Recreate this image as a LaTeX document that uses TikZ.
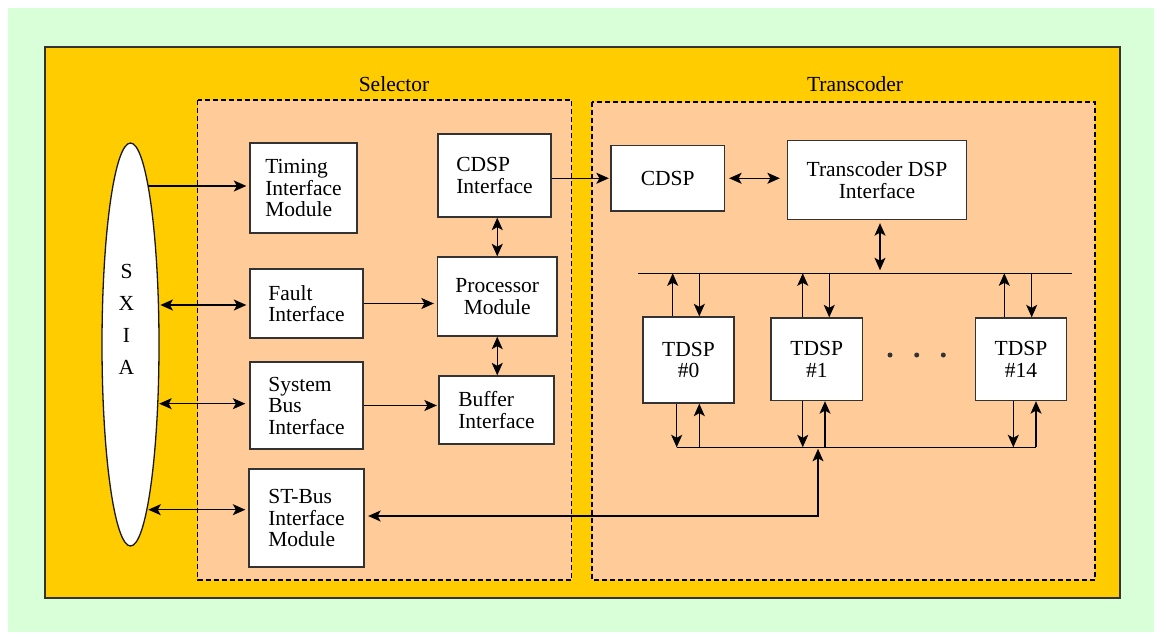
\documentclass[tikz,border=0pt]{standalone}
\usepackage{fontspec}
\setmainfont{Liberation Serif}
\usetikzlibrary{shapes.geometric,arrows.meta}
\definecolor{mint}{HTML}{D9FFD9}
\definecolor{gold}{HTML}{FFCC00}
\definecolor{peach}{HTML}{FFCC99}
\definecolor{edge}{HTML}{333333}
\tikzset{
  headtip/.tip={Stealth[length=12.5pt,width=11pt,inset=3pt]}
}
\begin{document}
\begin{tikzpicture}[x=1pt,y=-1pt,
  txt/.style={font=\rmfamily\fontsize{21.5pt}{21.5pt}\selectfont},
  blk/.style={draw=edge,fill=white,line width=1.3pt,inner sep=0pt,txt,text=black},
  lblk/.style={blk,align=left},
  cblk/.style={blk,align=center},
  conn/.style={draw=black,line width=1.3pt},
  fwd/.style={conn,-headtip},
  both/.style={conn,headtip-headtip},
  grpbox/.style={fill=peach,draw=black,line width=1.6pt,dash pattern=on 5pt off 3pt},
  dotnode/.style={circle,fill=black!80,inner sep=0pt,minimum size=5pt}
]
\useasboundingbox (0,0) rectangle (1154,632);

% backgrounds
\fill[mint] (8,8) rectangle (1154,632);
\draw[fill=gold,draw=edge,line width=1.5pt] (45,47) rectangle (1120,598);

% the two subsystems
\draw[grpbox] (197.5,100) rectangle (571.5,580);
\draw[grpbox] (592,102) rectangle (1095,580);
\node[txt,anchor=base] (sellabel) at (394,91) {Selector};
\node[txt,anchor=base] (trlabel) at (855,91.5) {Transcoder};

% selector blocks
\node[lblk,minimum width=107,minimum height=90] (timing) at (303.5,188) {Timing\\Interface\\Module};
\node[lblk,minimum width=113,minimum height=69] (fault) at (306.5,303.5) {Fault\\Interface};
\node[lblk,minimum width=113,minimum height=87] (sysbus) at (306.5,405.5) {System\\Bus\\Interface};
\node[lblk,minimum width=115,minimum height=98] (stbus) at (306.5,518) {ST-Bus\\Interface\\Module};
\node[lblk,minimum width=113,minimum height=83] (cdspif) at (494.5,175.5) {CDSP\\Interface};
\node[cblk,minimum width=119.5,minimum height=79] (proc) at (497.25,296.5) {Processor\\Module};
\node[lblk,minimum width=115,minimum height=68] (buffer) at (496.5,410) {Buffer\\Interface};

% transcoder blocks
\node[cblk,minimum width=113.5,minimum height=65.5] (cdsp) at (667.75,178.25) {CDSP};
\node[cblk,minimum width=179,minimum height=79] (tdspif) at (877,180) {Transcoder DSP\\Interface};
\node[cblk,minimum width=91,minimum height=86] (t0) at (688.5,360) {TDSP\\\#0};
\node[cblk,minimum width=91.5,minimum height=82.5] (t1) at (816.75,359.25) {TDSP\\\#1};
\node[cblk,minimum width=91,minimum height=82.5] (t14) at (1021,359.25) {TDSP\\\#14};
\node[dotnode] (dota) at (890,355) {};
\node[dotnode] (dotb) at (916.7,355) {};
\node[dotnode] (dotc) at (943.3,355) {};

% SXIA bus
\node[ellipse,draw=black!90,fill=white,line width=1.3pt,inner sep=0pt,
      minimum width=57,minimum height=403] (sxia) at (130.5,344.5) {};
\node[txt,align=center,font=\rmfamily\fontsize{21.5pt}{32.2pt}\selectfont] (sxialabel) at (126.5,319.5) {S\\X\\I\\A};
\coordinate (sxT) at (148.1,186);
\coordinate (sxF) at (158.4,305);
\coordinate (sxS) at (157.7,403.7);
\coordinate (sxB) at (146.8,509.7);

% SXIA links
\draw[fwd,shorten >=3pt] (sxT) -- (sxT -| timing.west);
\draw[both,shorten <=2pt,shorten >=3pt] (sxF) -- (sxF -| fault.west);
\draw[both,shorten <=1.5pt,shorten >=4pt] (sxS) -- (sxS -| sysbus.west);
\draw[both,shorten <=1.5pt,shorten >=3pt] (sxB) -- (sxB -| stbus.west);

% selector links
\draw[fwd,shorten >=3pt] (fault.east) -- (fault.east -| proc.west);
\draw[fwd,shorten >=1.5pt] (sysbus.east) -- (sysbus.east -| buffer.west);
\draw[both] (proc.north |- cdspif.south) -- (proc.north);
\draw[both] (proc.south) -- (proc.south |- buffer.north);
\draw[fwd,shorten >=1.5pt] (cdsp.west -| cdspif.east) -- (cdsp.west);

% transcoder links
\draw[both,shorten <=4pt,shorten >=7pt] (cdsp.east) -- (cdsp.east -| tdspif.west);
\coordinate (busL) at (638,273.3);
\coordinate (busR) at (1072,273.3);
\coordinate (botL) at (676.7,447.3);
\coordinate (botR) at (1036,447.3);
\coordinate (tap) at (818,447.3);
\draw[conn] (busL) -- (busR);
\draw[conn] (botL) -- (botR);
\draw[both,shorten <=3pt,shorten >=3pt] ([xshift=3pt]tdspif.south) -- ([xshift=3pt]tdspif.south |- busL);
\foreach \n/\a/\b/\c/\d in {t0/-15.8/10.8/-11.8/10.8, t1/-14/12.5/-14/8.25, t14/-16.7/10.7/-7.7/15}{
  \draw[fwd] ([xshift=\a pt]\n.north) -- ([xshift=\a pt]\n.north |- busL);
  \draw[fwd] ([xshift=\b pt]\n.north |- busL) -- ([xshift=\b pt]\n.north);
  \draw[fwd] ([xshift=\c pt]\n.south) -- ([xshift=\c pt]\n.south |- botL);
  \draw[fwd] ([xshift=\d pt]\n.south |- botL) -- ([xshift=\d pt]\n.south);
}
\draw[both,shorten <=3.5pt,shorten >=1.5pt] ([yshift=2pt]stbus.east) -| (tap);
\end{tikzpicture}
\end{document}
